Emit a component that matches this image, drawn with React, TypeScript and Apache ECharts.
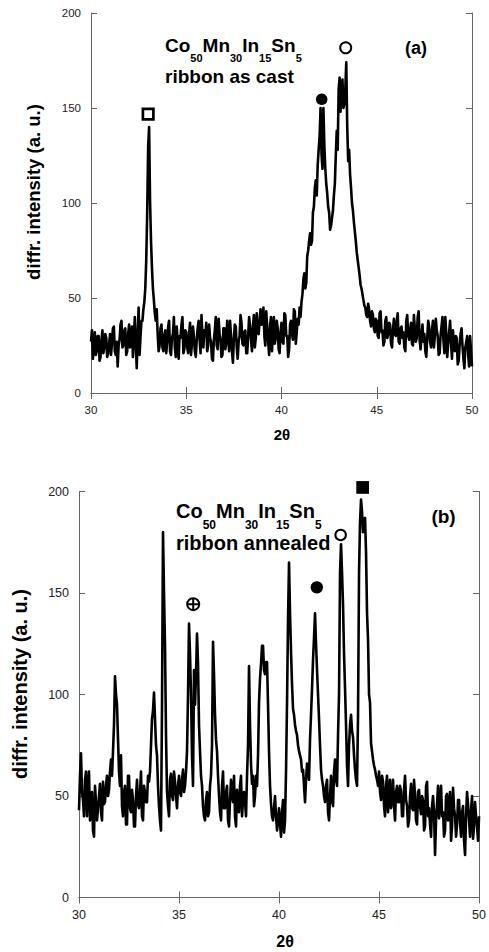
import React, { useEffect, useRef } from "react";
import * as echarts from "echarts";

// 2θ sampling grid (degrees)
const twoThetaStart = 30;
const twoThetaStep = 0.05;

// Panel (a): ribbon as cast, intensity at 30.00, 30.05, ... 50.00 (one row per degree)
const intensityA = [
  27, 33, 18, 25, 32, 20, 22, 30, 30, 17, 19, 28, 33, 21, 24, 31, 29, 19, 21, 26,
  31, 20, 26, 34, 35, 22, 20, 27, 14, 25, 28, 36, 38, 24, 25, 33, 34, 20, 22, 31,
  36, 24, 27, 35, 19, 29, 40, 26, 13, 30, 45, 20, 30, 38, 38, 44, 48, 55, 70, 95,
  130, 140, 101, 80, 66, 55, 49, 42, 38, 44, 31, 22, 25, 34, 36, 24, 22, 30, 33, 21,
  27, 35, 38, 22, 20, 29, 31, 40, 24, 19, 35, 27, 18, 30, 29, 36, 40, 21, 23, 33,
  32, 24, 21, 31, 37, 20, 26, 35, 30, 22, 19, 28, 34, 38, 28, 21, 41, 30, 24, 33,
  30, 37, 22, 25, 36, 29, 27, 18, 17, 28, 33, 40, 25, 23, 39, 31, 28, 19, 20, 34,
  34, 23, 26, 38, 31, 22, 38, 30, 22, 16, 29, 36, 35, 24, 18, 27, 30, 41, 37, 26,
  25, 32, 33, 21, 21, 30, 40, 35, 28, 22, 35, 41, 24, 29, 42, 33, 31, 38, 44, 36,
  38, 45, 30, 25, 43, 34, 27, 20, 36, 40, 22, 31, 40, 26, 29, 38, 34, 23, 21, 32,
  37, 27, 26, 42, 41, 30, 30, 19, 23, 36, 38, 31, 28, 44, 43, 26, 32, 39, 36, 45,
  40, 48, 52, 60, 63, 55, 58, 72, 75, 80, 84, 78, 80, 95, 98, 108, 112, 104, 120, 128,
  135, 150, 126, 118, 150, 130, 118, 110, 105, 98, 95, 86, 88, 92, 96, 104, 110, 125, 138, 128,
  160, 166, 148, 158, 165, 150, 152, 160, 174, 140, 122, 128, 115, 108, 100, 96, 90, 85, 80, 74,
  70, 66, 62, 57, 55, 52, 49, 46, 45, 41, 40, 47, 44, 38, 35, 43, 41, 34, 32, 39,
  38, 30, 29, 42, 43, 32, 33, 25, 27, 38, 40, 29, 31, 37, 36, 26, 24, 33, 39, 31,
  30, 38, 42, 27, 26, 34, 35, 29, 32, 24, 22, 38, 41, 30, 28, 33, 37, 26, 25, 41,
  34, 27, 29, 40, 43, 28, 23, 30, 36, 27, 31, 22, 19, 29, 38, 35, 27, 24, 33, 38,
  24, 30, 39, 33, 30, 20, 21, 30, 35, 40, 28, 21, 40, 31, 19, 26, 32, 38, 26, 18,
  33, 26, 22, 30, 29, 15, 17, 25, 31, 34, 25, 18, 13, 24, 27, 30, 20, 14, 30, 22,
  14,
];

// Panel (b): ribbon annealed
const intensityB = [
  43, 60, 71, 52, 48, 40, 58, 62, 40, 55, 62, 38, 45, 52, 33, 30, 55, 47, 38, 44,
  50, 56, 42, 38, 57, 46, 47, 55, 60, 50, 53, 62, 68, 60, 72, 85, 109, 100, 95, 78,
  62, 55, 70, 45, 40, 52, 55, 36, 36, 60, 60, 44, 42, 53, 48, 35, 35, 50, 58, 46,
  44, 52, 62, 40, 38, 55, 52, 47, 47, 60, 57, 62, 75, 88, 92, 101, 88, 75, 70, 55,
  45, 38, 33, 95, 180, 150, 124, 80, 52, 45, 40, 58, 61, 50, 48, 62, 57, 50, 44, 55,
  60, 52, 50, 58, 63, 52, 55, 62, 72, 100, 135, 120, 100, 70, 55, 112, 95, 110, 130, 115,
  85, 72, 60, 55, 45, 40, 38, 48, 52, 40, 42, 55, 60, 75, 126, 110, 90, 78, 72, 60,
  50, 42, 38, 55, 62, 44, 44, 52, 55, 38, 35, 48, 58, 50, 47, 60, 40, 35, 53, 45,
  42, 55, 60, 40, 48, 52, 47, 40, 60, 75, 114, 85, 66, 56, 60, 45, 50, 60, 55, 70,
  96, 108, 115, 124, 124, 112, 110, 116, 116, 95, 72, 55, 46, 40, 38, 44, 50, 40, 33, 38,
  44, 36, 30, 42, 48, 32, 38, 62, 96, 137, 165, 140, 121, 105, 93, 90, 85, 82, 80, 75,
  72, 70, 68, 62, 63, 55, 47, 58, 66, 62, 58, 78, 90, 103, 117, 128, 140, 125, 112, 100,
  88, 75, 63, 58, 55, 50, 47, 55, 58, 42, 38, 50, 60, 48, 45, 62, 68, 58, 55, 80,
  100, 160, 174, 160, 144, 120, 103, 85, 65, 55, 75, 85, 90, 82, 79, 70, 63, 58, 55, 90,
  160, 185, 196, 190, 180, 186, 187, 170, 140, 127, 100, 96, 76, 72, 68, 65, 63, 60, 58, 55,
  62, 52, 48, 60, 57, 45, 40, 55, 60, 42, 50, 58, 44, 48, 58, 45, 38, 52, 55, 47,
  47, 55, 52, 40, 40, 53, 60, 48, 45, 35, 38, 50, 56, 44, 43, 58, 50, 38, 36, 52,
  53, 45, 41, 50, 48, 33, 35, 55, 57, 40, 44, 36, 30, 45, 50, 42, 21, 38, 46, 55,
  39, 48, 55, 40, 42, 30, 33, 50, 51, 38, 45, 52, 28, 35, 54, 44, 40, 30, 36, 48,
  48, 37, 30, 42, 45, 28, 21, 40, 52, 46, 38, 30, 43, 50, 29, 35, 47, 40, 35, 28,
  40,
];

// Phase markers [2θ, intensity]
const markA_openSquare = [[33.0, 146.8]];
const markA_filledCircle = [[42.11, 154.6]];
const markA_openCircle = [[43.37, 181.7]];
const markB_crossedCircle = [[35.71, 144.5]];
const markB_filledCircle = [[41.89, 152.8]];
const markB_openCircle = [[43.08, 178.6]];
const markB_filledSquare = [[44.18, 202]];

const xTicks = [30, 35, 40, 45, 50];
const yTicks = [0, 50, 100, 150, 200];

const FONT = "'Liberation Sans', Arial, Helvetica, sans-serif";
const CROSSED = "path://M0,-10A10,10 0 1,1 0,10A10,10 0 1,1 0,-10Z M0,-10L0,10 M-10,0L10,0";

function toPairs(vals: number[]) {
  return vals.map((v, i) => [Number((twoThetaStart + i * twoThetaStep).toFixed(2)), v]);
}

function axesFor(grid: number, labelSize: number) {
  const axisLine = { show: true, lineStyle: { color: "#666", width: 1 } };
  const axisTick = { show: true, inside: true, length: 6, lineStyle: { color: "#666", width: 1 } };
  const x = [
    {
      type: "value", gridIndex: grid, min: xTicks[0], max: xTicks[xTicks.length - 1], interval: 5,
      position: "bottom", axisLine, axisTick, splitLine: { show: false },
      axisLabel: { color: "#222", fontSize: labelSize, fontFamily: FONT, margin: 11 },
    },
    {
      type: "value", gridIndex: grid, min: xTicks[0], max: xTicks[xTicks.length - 1], interval: 5,
      position: "top", axisLine, axisTick, splitLine: { show: false }, axisLabel: { show: false },
    },
  ];
  const y = [
    {
      type: "value", gridIndex: grid, min: yTicks[0], max: yTicks[yTicks.length - 1], interval: 50,
      position: "left", axisLine, axisTick, splitLine: { show: false },
      axisLabel: { color: "#222", fontSize: labelSize, fontFamily: FONT, margin: 10 },
    },
    {
      type: "value", gridIndex: grid, min: yTicks[0], max: yTicks[yTicks.length - 1], interval: 50,
      position: "right", axisLine, axisTick, splitLine: { show: false }, axisLabel: { show: false },
    },
  ];
  return { x, y };
}

function lineSeries(xi: number, yi: number, vals: number[]) {
  return {
    type: "line", xAxisIndex: xi, yAxisIndex: yi, data: toPairs(vals),
    showSymbol: false, symbol: "none", lineStyle: { color: "#000", width: 2.6, join: "round" }, z: 2,
  };
}

function marker(xi: number, yi: number, data: number[][], symbol: string, size: number, fill: string, border: number) {
  return {
    type: "scatter", xAxisIndex: xi, yAxisIndex: yi, data, symbol, symbolSize: size, clip: false,
    itemStyle: { color: fill, borderColor: "#000", borderWidth: border, opacity: 1 }, z: 5,
  };
}

function formula(x: number, y: number, big: number, small: number, pad: number) {
  return {
    type: "text", x, y, z: 10,
    style: {
      text: "{m|Co}{s|50}{m|Mn}{s|30}{m|In}{s|15}{m|Sn}{s|5}",
      align: "left", verticalAlign: "top",
      rich: {
        m: { fontSize: big, fontWeight: "bold", fontFamily: FONT, fill: "#000", verticalAlign: "top" },
        s: { fontSize: small, fontWeight: "bold", fontFamily: FONT, fill: "#000", verticalAlign: "top", padding: [pad, 0, 0, 0] },
      },
    },
  };
}

function label(text: string, x: number, y: number, size: number) {
  return {
    type: "text", x, y, z: 10,
    style: { text, font: `bold ${size}px ${FONT}`, fill: "#000", align: "left", verticalAlign: "middle" },
  };
}

function clabel(text: string, x: number, y: number, size: number, rot = 0) {
  return {
    type: "text", x, y, rotation: rot, z: 10,
    style: { text, font: `bold ${size}px ${FONT}`, fill: "#000", align: "center", verticalAlign: "middle" },
  };
}

export default function App() {
  const ref = useRef<HTMLDivElement>(null);
  useEffect(() => {
    if (!ref.current) return;
    const chart = echarts.init(ref.current, undefined, { renderer: "svg" });
    const a = axesFor(0, 11.5);
    const b = axesFor(1, 12.5);
    chart.setOption({
      animation: false,
      backgroundColor: "#fff",
      grid: [
        { left: 91, top: 13, width: 381, height: 380 },
        { left: 79, top: 491.5, width: 408, height: 406 },
      ],
      xAxis: [...a.x, ...b.x],
      yAxis: [...a.y, ...b.y],
      series: [
        lineSeries(0, 0, intensityA),
        lineSeries(2, 2, intensityB),
        marker(0, 0, markA_openSquare, "rect", 10.5, "#fff", 2.7),
        marker(0, 0, markA_filledCircle, "circle", 11.5, "#000", 0),
        marker(0, 0, markA_openCircle, "circle", 11, "#fff", 2),
        marker(2, 2, markB_crossedCircle, CROSSED, 12, "#fff", 2),
        marker(2, 2, markB_filledCircle, "circle", 12.3, "#000", 0),
        marker(2, 2, markB_openCircle, "circle", 10.5, "#fff", 2),
        marker(2, 2, markB_filledSquare, "rect", 12.7, "#000", 0),
      ],
      graphic: [
        formula(165, 35.7, 19, 11, 17),
        label("ribbon as cast", 165, 76.5, 19),
        clabel("(a)", 416, 47.5, 18),
        clabel("2θ", 282, 434, 15),
        clabel("diffr. intensity (a. u.)", 33, 192, 18.5, Math.PI / 2),
        formula(176, 501, 20, 12, 18),
        label("ribbon annealed", 176, 543, 20),
        clabel("(b)", 443.5, 516.5, 19),
        clabel("2θ", 285, 941, 16),
        clabel("diffr. intensity (a. u.)", 20, 684, 20, Math.PI / 2),
      ],
    });
    return () => chart.dispose();
  }, []);
  return (
    <div
      ref={ref}
      style={{ position: "absolute", left: 0, top: 0, width: 489, height: 952, background: "#fff" }}
    />
  );
}
